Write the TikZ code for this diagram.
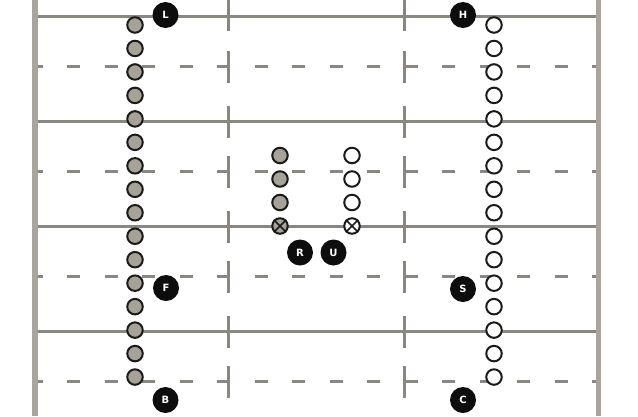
\documentclass[tikz,border=0pt]{standalone}
\usepackage{fontspec}
\newfontfamily\labfont{DejaVu Sans}
\definecolor{yardgray}{HTML}{8A8781}
\definecolor{sidegray}{HTML}{A9A59E}
\definecolor{teamgray}{HTML}{A6A298}
\definecolor{ink}{HTML}{1A1A1A}
\begin{document}
\begin{tikzpicture}[x=1pt,y=-1pt,
  yard/.style={draw=yardgray,line width=3pt},
  dashyard/.style={yard,dash pattern=on 13pt off 24.5pt,dash phase=5.5pt},
  side/.style={draw=sidegray,line width=5.5pt},
  player/.style={circle,draw=ink,line width=2pt,minimum size=15.5pt,inner sep=0pt},
  gp/.style={player,fill=teamgray},
  wp/.style={player,fill=white},
  tag/.style={circle,fill=black!95,text=white,minimum size=26pt,inner sep=0pt,
    font=\labfont\bfseries\fontsize{10}{10}\selectfont},
  cross/.style={draw=ink,line width=1.6pt}]
\useasboundingbox (0,0) rectangle (638,416);
\fill[white] (0,0) rectangle (638,416);
% yard lines
\foreach \y in {16,121,226,331} \draw[yard] (35,\y) -- (598.5,\y);
\foreach \y in {66,171,276,381} \draw[dashyard] (35,\y) -- (598.5,\y);
% vertical hash marks
\foreach \x in {228,404} {
  \draw[yard] (\x,0) -- (\x,31);
  \foreach \y in {66,121,171,226,276,331,381} \draw[yard] (\x,\y-15) -- (\x,\y+17);
}
% sidelines
\draw[side] (35,0) -- (35,416);
\draw[side] (598.5,0) -- (598.5,416);
% side columns
\foreach \i in {0,...,15} {
  \node[gp] (g\i) at (135,25+23.47*\i) {};
  \node[wp] (w\i) at (494,25+23.47*\i) {};
}
% center columns
\foreach \i in {0,1,2} {
  \node[gp] (cg\i) at (280,155.5+23.5*\i) {};
  \node[wp] (cw\i) at (352,155.5+23.5*\i) {};
}
\node[gp] (xg) at (280,226) {};
\node[wp] (xw) at (352,226) {};
\draw[cross] (xg.north east) -- (xg.south west) (xg.north west) -- (xg.south east);
\draw[cross] (xw.north east) -- (xw.south west) (xw.north west) -- (xw.south east);
% tags
\node[tag] (L) at (165.5,15) {L};
\node[tag] (H) at (463,15) {H};
\node[tag] (F) at (166,288) {F};
\node[tag] (B) at (165.5,400) {B};
\node[tag] (S) at (463,289) {S};
\node[tag] (C) at (463,400) {C};
\node[tag] (R) at (300,252.5) {R};
\node[tag] (U) at (333.5,252.5) {U};
\end{tikzpicture}
\end{document}
